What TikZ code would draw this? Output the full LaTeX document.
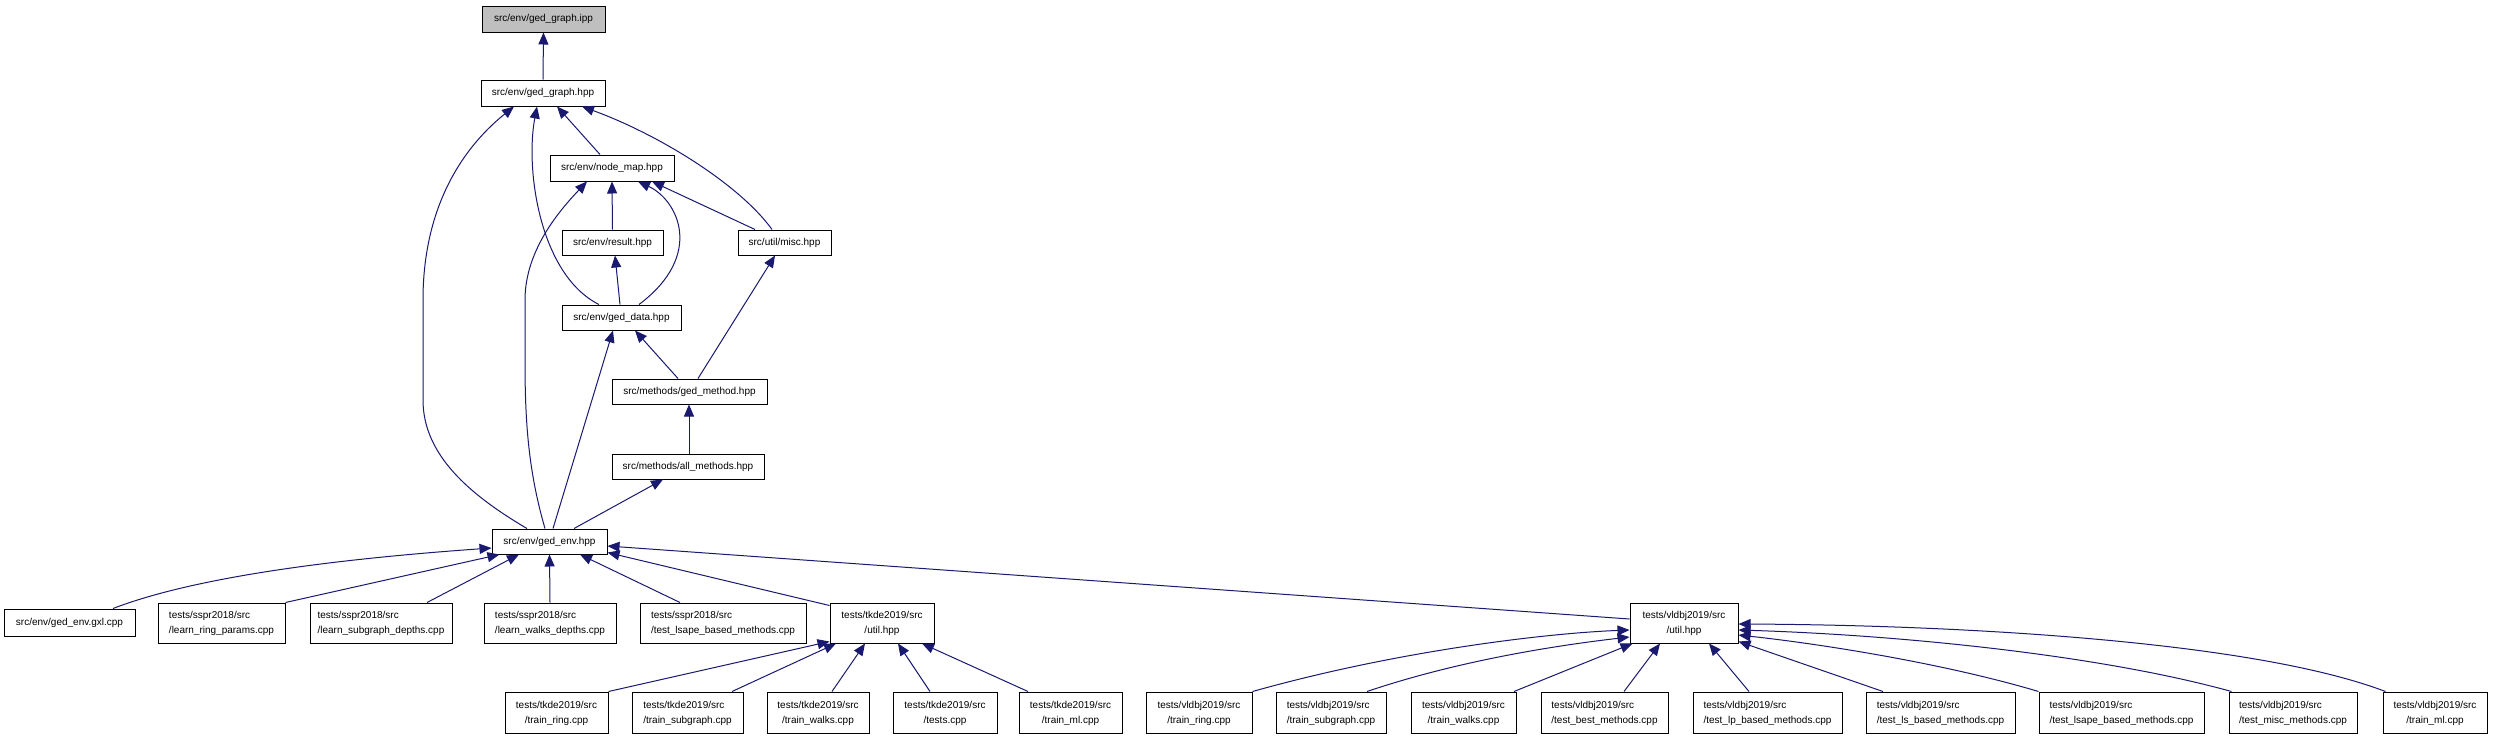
\documentclass[tikz,border=0pt]{standalone}
\usepackage{fontspec}
\setmainfont{Liberation Sans}
\usetikzlibrary{arrows.meta}
\definecolor{edgeblue}{HTML}{191970}
\definecolor{rootgray}{HTML}{BFBFBF}
\newcommand\dxl[2]{\begin{tabular}{@{}l@{}}#1\\\multicolumn{1}{@{}c@{}}{#2}\end{tabular}}
\begin{document}
\begin{tikzpicture}[x=1pt,y=-1pt,
  box/.style={draw=black, line width=1pt, fill=white, rectangle, inner sep=0pt, font=\fontsize{10}{15}\selectfont},
  one/.style={box, minimum height=25pt},
  two/.style={box, minimum height=40pt},
  dep/.style={draw=edgeblue, line width=1pt, -{Triangle[length=12pt,width=10pt]}}
]
\fill[white] (0,0) rectangle (2493,739);
\useasboundingbox (0,0) rectangle (2493,739);

% upper part
\node[one, fill=rootgray, minimum width=123pt, minimum height=26pt] (ipp) at (543.5,19) {src/env/ged\_graph.ipp};
\node[one, minimum width=124pt, minimum height=26pt] (gg) at (543,93) {src/env/ged\_graph.hpp};
\node[one, minimum width=124pt, minimum height=26pt] (nm) at (612,168) {src/env/node\_map.hpp};
\node[one, minimum width=101pt] (res) at (612.5,242.5) {src/env/result.hpp};
\node[one, minimum width=93pt] (misc) at (784.5,242.5) {src/util/misc.hpp};
\node[one, minimum width=119pt] (gd) at (621.5,317.5) {src/env/ged\_data.hpp};
\node[one, minimum width=155pt] (gm) at (689.5,391.5) {src/methods/ged\_method.hpp};
\node[one, minimum width=152pt] (am) at (688,466.5) {src/methods/all\_methods.hpp};
\node[one, minimum width=115pt] (env) at (549.5,541.5) {src/env/ged\_env.hpp};

% row 3
\node[one, minimum width=131pt, minimum height=27pt] (gxl) at (69.5,622.5) {src/env/ged\_env.gxl.cpp};
\node[two, minimum width=127pt] (lrp) at (221.5,623) {\dxl{tests/sspr2018/src}{/learn\_ring\_params.cpp}};
\node[two, minimum width=142pt] (lsd) at (381,623) {\dxl{tests/sspr2018/src}{/learn\_subgraph\_depths.cpp}};
\node[two, minimum width=132pt] (lwd) at (550,623) {\dxl{tests/sspr2018/src}{/learn\_walks\_depths.cpp}};
\node[two, minimum width=166pt] (tlb) at (723,623) {\dxl{tests/sspr2018/src}{/test\_lsape\_based\_methods.cpp}};
\node[two, minimum width=104pt] (tku) at (882,623) {\dxl{tests/tkde2019/src}{/util.hpp}};
\node[two, minimum width=108pt] (vu) at (1684,623) {\dxl{tests/vldbj2019/src}{/util.hpp}};

% row 4
\node[two, minimum width=103pt, minimum height=41pt] (ttr) at (556.5,712.5) {\dxl{tests/tkde2019/src}{/train\_ring.cpp}};
\node[two, minimum width=111pt, minimum height=41pt] (tts) at (687.5,712.5) {\dxl{tests/tkde2019/src}{/train\_subgraph.cpp}};
\node[two, minimum width=102pt, minimum height=41pt] (ttw) at (818,712.5) {\dxl{tests/tkde2019/src}{/train\_walks.cpp}};
\node[two, minimum width=104pt, minimum height=41pt] (tte) at (945,712.5) {\dxl{tests/tkde2019/src}{/tests.cpp}};
\node[two, minimum width=103pt, minimum height=41pt] (ttm) at (1070.5,712.5) {\dxl{tests/tkde2019/src}{/train\_ml.cpp}};
\node[two, minimum width=106pt, minimum height=41pt] (vtr) at (1199,712.5) {\dxl{tests/vldbj2019/src}{/train\_ring.cpp}};
\node[two, minimum width=110pt, minimum height=41pt] (vts) at (1331,712.5) {\dxl{tests/vldbj2019/src}{/train\_subgraph.cpp}};
\node[two, minimum width=105pt, minimum height=41pt] (vtw) at (1463.5,712.5) {\dxl{tests/vldbj2019/src}{/train\_walks.cpp}};
\node[two, minimum width=127pt, minimum height=41pt] (vtb) at (1604.5,712.5) {\dxl{tests/vldbj2019/src}{/test\_best\_methods.cpp}};
\node[two, minimum width=149pt, minimum height=41pt] (vtlp) at (1767.5,712.5) {\dxl{tests/vldbj2019/src}{/test\_lp\_based\_methods.cpp}};
\node[two, minimum width=149pt, minimum height=41pt] (vtls) at (1940.5,712.5) {\dxl{tests/vldbj2019/src}{/test\_ls\_based\_methods.cpp}};
\node[two, minimum width=165pt, minimum height=41pt] (vtlsape) at (2121.5,712.5) {\dxl{tests/vldbj2019/src}{/test\_lsape\_based\_methods.cpp}};
\node[two, minimum width=128pt, minimum height=41pt] (vtmisc) at (2293,712.5) {\dxl{tests/vldbj2019/src}{/test\_misc\_methods.cpp}};
\node[two, minimum width=104pt, minimum height=41pt] (vtm) at (2435,712.5) {\dxl{tests/vldbj2019/src}{/train\_ml.cpp}};

% upper edges
\draw[dep] (gg.north) -- (ipp.south);
\draw[dep] ([xshift=-12pt]nm.north) -- ([xshift=14pt]gg.south);
\draw[dep] ([xshift=-12.5pt]misc.north) .. controls (740,185) and (660,135) .. ([xshift=39pt]gg.south);
\draw[dep] ([xshift=-22.5pt]gd.north) .. controls (540,275) and (525,170) .. ([xshift=-6pt]gg.south);
\draw[dep] ([xshift=-22.5pt]env.north) .. controls (470,495) and (423,455) .. (423,400) -- (423,300) .. controls (423,210) and (460,150) .. ([xshift=-29pt]gg.south);
\draw[dep] ([xshift=17.5pt]gd.north) .. controls (705,255) and (678,200) .. ([xshift=26pt]nm.south);
\draw[dep] (res.north) -- (nm.south);
\draw[dep] ([xshift=-29.5pt]misc.north) -- ([xshift=40pt]nm.south);
\draw[dep] ([xshift=-4.5pt]env.north) .. controls (528,470) and (525,420) .. (525,360) -- (525,300) .. controls (525,250) and (560,210) .. ([xshift=-25pt]nm.south);
\draw[dep] ([xshift=-1.5pt]gd.north) -- ([xshift=2.5pt]res.south);
\draw[dep] ([xshift=-11.5pt]gm.north) -- ([xshift=13.5pt]gd.south);
\draw[dep] ([xshift=8.5pt]gm.north) -- ([xshift=-9.5pt]misc.south);
\draw[dep] ([xshift=1pt]am.north) -- ([xshift=-0.5pt]gm.south);
\draw[dep] ([xshift=24.5pt]env.north) -- ([xshift=-25pt]am.south);
\draw[dep] ([xshift=3.5pt]env.north) -- ([xshift=-8.5pt]gd.south);

% row 3 edges
\draw[dep] ([xshift=43.5pt]gxl.north) .. controls (200,575) and (350,558) .. ([yshift=-6.5pt]env.west);
\draw[dep] (lrp.north east) -- ([xshift=8pt]env.south west);
\draw[dep] ([xshift=46pt]lsd.north) -- ([xshift=-30.5pt]env.south);
\draw[dep] (lwd.north) -- (env.south);
\draw[dep] ([xshift=-43pt]tlb.north) -- ([xshift=30.5pt]env.south);
\draw[dep] ([yshift=-3pt]tku.north west) -- ([yshift=2pt]env.south east);
\draw[dep] ([yshift=4pt]vu.west) -- ([yshift=-4.5pt]env.east);

% row 4 edges (tkde)
\draw[dep] (ttr.north east) -- ([yshift=2pt]tku.south west);
\draw[dep] ([xshift=44.5pt]tts.north) -- ([xshift=-46pt]tku.south);
\draw[dep] ([xshift=14pt]ttw.north) -- ([xshift=-17pt]tku.south);
\draw[dep] ([xshift=-15pt]tte.north) -- ([xshift=16pt]tku.south);
\draw[dep] ([xshift=-42.5pt]ttm.north) -- ([xshift=40pt]tku.south);

% row 4 edges (vldbj)
\draw[dep] (vtr.north east) .. controls (1400,650) and (1550,633) .. ([yshift=-7pt]vu.west);
\draw[dep] ([xshift=36pt]vts.north) .. controls (1460,660) and (1560,645) .. ([yshift=-14pt]vu.west);
\draw[dep] ([xshift=50.5pt]vtw.north) -- ([xshift=3pt]vu.south west);
\draw[dep] ([xshift=19.5pt]vtb.north) -- ([xshift=-24pt]vu.south);
\draw[dep] ([xshift=-18.5pt]vtlp.north) -- ([xshift=25pt]vu.south);
\draw[dep] ([xshift=-57.5pt]vtls.north) -- ([yshift=2pt]vu.south east);
\draw[dep] (vtlsape.north west) .. controls (1950,665) and (1830,645) .. ([yshift=-12pt]vu.east);
\draw[dep] ([xshift=3pt]vtmisc.north west) .. controls (2100,655) and (1900,635) .. ([yshift=-7pt]vu.east);
\draw[dep] ([xshift=3pt]vtm.north west) .. controls (2250,640) and (1950,625) .. ([yshift=-1pt]vu.east);
\end{tikzpicture}
\end{document}
